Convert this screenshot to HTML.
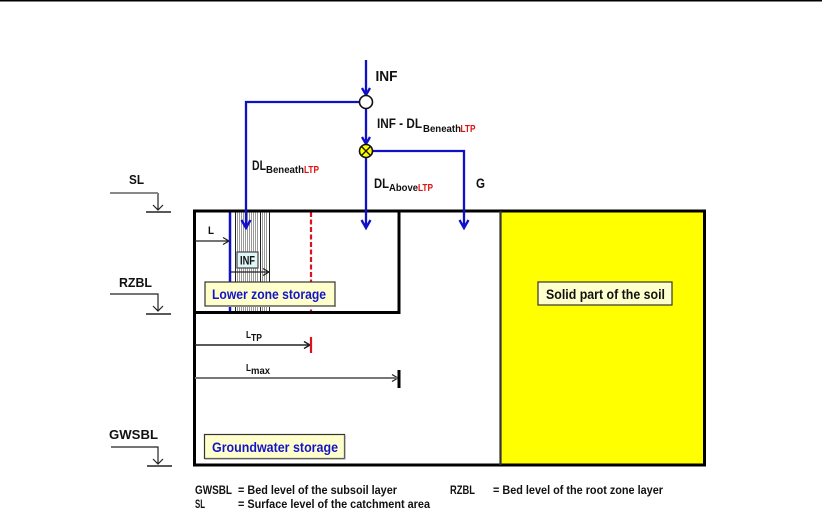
<!DOCTYPE html>
<html><head><meta charset="utf-8"><style>
html,body{margin:0;padding:0;background:#fff;width:822px;height:518px;overflow:hidden}
svg{display:block}
text{font-family:"Liberation Sans",sans-serif;font-weight:bold;fill:#111}
.r{fill:#e01010}
.b{fill:#1414c8}
</style></head><body>
<svg width="822" height="518" viewBox="0 0 822 518" xmlns="http://www.w3.org/2000/svg">
<rect x="0" y="0" width="822" height="1.500" fill="#000"/>
<rect x="500" y="211" width="205" height="254" fill="#ffff00"/>
<!-- hatching -->
<g stroke="#999" stroke-width="1">
<path d="M237.500 212V312M239.500 212V312M241.500 212V312M243.500 212V312M245.500 212V312M247.500 212V312M249.500 212V312M251.500 212V312M253.500 212V312M255.500 212V312M257.500 212V312M262.500 212V312M264.500 212V312M266.500 212V312"/>
</g>
<path d="M235.500 212V312M260.500 212V312M269.500 212V312" stroke="#222" stroke-width="1"/>
<path d="M230 212V312" stroke="#1010c8" stroke-width="2.500"/>
<path d="M311 212V312" stroke="#e01020" stroke-width="2.200" stroke-dasharray="5 2.500"/>
<!-- frames -->
<rect x="194.500" y="211" width="510" height="254" fill="none" stroke="#000" stroke-width="3"/>
<path d="M500.500 211V465" stroke="#333" stroke-width="2.200"/>
<path d="M194 211H399V312.500H194" fill="none" stroke="#000" stroke-width="3"/>
<!-- level markers -->
<g fill="none" stroke="#222" stroke-width="1.200">
<path d="M158 193V210M153 205L158 210L163 205"/>
<path d="M146 212H171" stroke-width="1.500"/>
<path d="M110 294H158V311M153 306L158 311L163 306"/>
<path d="M146 314H171" stroke-width="1.500"/>
<path d="M111 447H158V464M153 459L158 464L163 459"/>
<path d="M147 466H172" stroke-width="1.500"/>
</g>
<path d="M110 193H158" stroke="#777" stroke-width="1.800"/>
<text x="129" y="184" font-size="13" textLength="15" lengthAdjust="spacingAndGlyphs">SL</text>
<text x="119" y="287" font-size="13" textLength="33" lengthAdjust="spacingAndGlyphs">RZBL</text>
<text x="109" y="439" font-size="13" textLength="49" lengthAdjust="spacingAndGlyphs">GWSBL</text>
<!-- blue flows -->
<g fill="none" stroke="#1010c8" stroke-width="2.300">
<path d="M366 60V95M362 88L366 95L370 88"/>
<path d="M359 102H246V228M241.500 220L246 228L250.500 220"/>
<path d="M366 109V144M362 137L366 144L370 137"/>
<path d="M366 158V228M361.500 220L366 228L370.500 220"/>
<path d="M373 151H464V228M459.500 220L464 228L468.500 220"/>
</g>
<circle cx="366" cy="102" r="6.500" fill="#fff" stroke="#111" stroke-width="1.600"/>
<circle cx="366" cy="151" r="6.500" fill="#ffff00" stroke="#111" stroke-width="1.600"/>
<path d="M361.500 146.500L370.500 155.500M370.500 146.500L361.500 155.500" stroke="#111" stroke-width="1.300"/>
<!-- flow labels -->
<text x="375.500" y="81" font-size="15" textLength="22" lengthAdjust="spacingAndGlyphs">INF</text>
<text x="377" y="128" font-size="13.500" textLength="45" lengthAdjust="spacingAndGlyphs">INF - DL</text>
<text x="423" y="132" font-size="10.500" textLength="38" lengthAdjust="spacingAndGlyphs">Beneath</text>
<text x="460.500" y="132" font-size="10.500" class="r" textLength="15" lengthAdjust="spacingAndGlyphs">LTP</text>
<text x="252" y="170" font-size="13.500" textLength="14" lengthAdjust="spacingAndGlyphs">DL</text>
<text x="266" y="173" font-size="10.500" textLength="38" lengthAdjust="spacingAndGlyphs">Beneath</text>
<text x="304" y="173" font-size="10.500" class="r" textLength="15" lengthAdjust="spacingAndGlyphs">LTP</text>
<text x="374" y="188" font-size="13.500" textLength="15" lengthAdjust="spacingAndGlyphs">DL</text>
<text x="389" y="191" font-size="10.500" textLength="29" lengthAdjust="spacingAndGlyphs">Above</text>
<text x="418" y="191" font-size="10.500" class="r" textLength="15" lengthAdjust="spacingAndGlyphs">LTP</text>
<text x="476" y="188" font-size="13.500" textLength="9" lengthAdjust="spacingAndGlyphs">G</text>
<!-- L arrows -->
<g fill="none" stroke="#222" stroke-width="1.200">
<path d="M195 241H229M223 237.500L229 241L223 244.500"/>
<path d="M231 272H269M263 268.500L269 272L263 275.500"/>
<path d="M195 345H310M304 341.500L310 345L304 348.500" stroke-width="1.500"/>
<path d="M392 374.500L398 378L392 381.500"/>
</g>
<path d="M195 378H398" stroke="#777" stroke-width="2"/>
<path d="M311 337V353" stroke="#e01020" stroke-width="2.200"/>
<path d="M399 370V388" stroke="#000" stroke-width="3"/>
<text x="208" y="234" font-size="11" textLength="6" lengthAdjust="spacingAndGlyphs">L</text>
<text x="246" y="338" font-size="10.500" textLength="5" lengthAdjust="spacingAndGlyphs">L</text><text x="251" y="341" font-size="10.500" textLength="11" lengthAdjust="spacingAndGlyphs">TP</text>
<text x="246" y="371" font-size="10.500" textLength="5" lengthAdjust="spacingAndGlyphs">L</text><text x="251" y="374" font-size="10.500" textLength="19" lengthAdjust="spacingAndGlyphs">max</text>
<!-- boxes -->
<rect x="237" y="252" width="21" height="16" fill="#dff7f7" stroke="#444" stroke-width="1.200"/>
<text x="240" y="264.500" font-size="11.500" textLength="15" lengthAdjust="spacingAndGlyphs">INF</text>
<rect x="205" y="282" width="130" height="24" fill="#ffffcc" stroke="#333" stroke-width="1.200"/>
<path d="M335.500 283V306.500H206" fill="none" stroke="#888" stroke-width="1"/>
<text x="212" y="299" font-size="13.500" class="b" textLength="114" lengthAdjust="spacingAndGlyphs">Lower zone storage</text>
<rect x="204.500" y="434.500" width="140" height="24" fill="#ffffcc" stroke="#333" stroke-width="1.200"/>
<path d="M345 435V459H205" fill="none" stroke="#888" stroke-width="1"/>
<text x="212" y="452" font-size="13.500" class="b" textLength="126" lengthAdjust="spacingAndGlyphs">Groundwater storage</text>
<rect x="538" y="282" width="134" height="23" fill="#ffffcc" stroke="#333" stroke-width="1.200"/>
<text x="546" y="299" font-size="13.500" textLength="119" lengthAdjust="spacingAndGlyphs">Solid part of the soil</text>
<!-- legend -->
<text x="195" y="494" font-size="11.500" textLength="37" lengthAdjust="spacingAndGlyphs">GWSBL</text>
<text x="238" y="494" font-size="11.500" textLength="159" lengthAdjust="spacingAndGlyphs">= Bed level of the subsoil layer</text>
<text x="195" y="508" font-size="11.500" textLength="10" lengthAdjust="spacingAndGlyphs">SL</text>
<text x="238" y="508" font-size="11.500" textLength="192" lengthAdjust="spacingAndGlyphs">= Surface level of the catchment area</text>
<text x="450" y="494" font-size="11.500" textLength="25" lengthAdjust="spacingAndGlyphs">RZBL</text>
<text x="493" y="494" font-size="11.500" textLength="170" lengthAdjust="spacingAndGlyphs">= Bed level of the root zone layer</text>
</svg>
</body></html>
